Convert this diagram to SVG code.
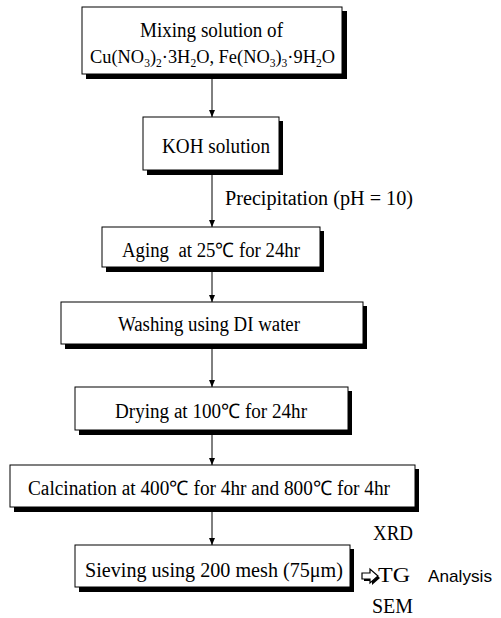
<svg xmlns="http://www.w3.org/2000/svg" width="501" height="618" viewBox="0 0 501 618">
<style>
.shadow{fill:#000}
.box{fill:#fff;stroke:#000;stroke-width:1}
.t{font-family:"Liberation Serif","Times New Roman",serif;font-size:20px;fill:#000}
.t2{font-family:"Liberation Serif","Times New Roman",serif;font-size:18.4px;fill:#000}
.sub{font-size:11.5px}
.s{font-family:"Liberation Sans Narrow","Liberation Sans",Arial,sans-serif;font-size:17px;fill:#000}
.c{stroke:#000;stroke-width:1;fill:none}
</style>
<defs>
<marker id="ad" markerUnits="userSpaceOnUse" markerWidth="6" markerHeight="8" refX="3" refY="7" orient="0" viewBox="0 0 6 8">
<path d="M0,0 L6,0 L3,7 Z" fill="#000"/>
</marker>
</defs>
<rect width="501" height="618" fill="#fff"/>
<g id="connectors">
<line class="c" x1="212" y1="79" x2="212" y2="117" marker-end="url(#ad)"/>
<line class="c" x1="212" y1="175" x2="212" y2="227" marker-end="url(#ad)"/>
<line class="c" x1="212" y1="272" x2="212" y2="302" marker-end="url(#ad)"/>
<line class="c" x1="212" y1="349" x2="212" y2="387" marker-end="url(#ad)"/>
<line class="c" x1="212" y1="435" x2="212" y2="465" marker-end="url(#ad)"/>
<line class="c" x1="212" y1="512" x2="212" y2="545" marker-end="url(#ad)"/>
</g>
<g id="mixing">
<rect class="shadow" x="86" y="11" width="261" height="68"/>
<rect class="box" x="82" y="7" width="260" height="67"/>
<text class="t" x="140" y="37" textLength="143" lengthAdjust="spacingAndGlyphs">Mixing solution of</text>
<text class="t2" x="90" y="63">Cu(NO<tspan class="sub" dy="4">3</tspan><tspan dy="-4">)</tspan><tspan class="sub" dy="4">2</tspan><tspan dy="-4">·3H</tspan><tspan class="sub" dy="4">2</tspan><tspan dy="-4">O, Fe(NO</tspan><tspan class="sub" dy="4">3</tspan><tspan dy="-4">)</tspan><tspan class="sub" dy="4">3</tspan><tspan dy="-4">·9H</tspan><tspan class="sub" dy="4">2</tspan><tspan dy="-4">O</tspan></text>
</g>
<g id="koh">
<rect class="shadow" x="147" y="121" width="136" height="54"/>
<rect class="box" x="143" y="117" width="136" height="53"/>
<text class="t" x="162" y="153" textLength="108" lengthAdjust="spacingAndGlyphs">KOH solution</text>
</g>
<g id="precipitation-label">
<text class="t" x="225" y="205" textLength="188" lengthAdjust="spacingAndGlyphs">Precipitation (pH = 10)</text>
</g>
<g id="aging">
<rect class="shadow" x="106" y="231" width="218" height="41"/>
<rect class="box" x="102" y="227" width="218" height="40"/>
<text class="t" x="122" y="257" textLength="178" lengthAdjust="spacingAndGlyphs">Aging&#160; at 25℃ for 24hr</text>
</g>
<g id="washing">
<rect class="shadow" x="65" y="306" width="302" height="43"/>
<rect class="box" x="61" y="302" width="302" height="42"/>
<text class="t" x="118" y="331" textLength="182" lengthAdjust="spacingAndGlyphs">Washing using DI water</text>
</g>
<g id="drying">
<rect class="shadow" x="79" y="391" width="273" height="44"/>
<rect class="box" x="75" y="387" width="273" height="43"/>
<text class="t" x="115" y="418" textLength="192" lengthAdjust="spacingAndGlyphs">Drying at 100℃ for 24hr</text>
</g>
<g id="calcination">
<rect class="shadow" x="14" y="469" width="405" height="43"/>
<rect class="box" x="10" y="465" width="405" height="42"/>
<text class="t" x="28" y="495" textLength="362" lengthAdjust="spacingAndGlyphs">Calcination at 400℃ for 4hr and 800℃ for 4hr</text>
</g>
<g id="sieving">
<rect class="shadow" x="79" y="549" width="275" height="43"/>
<rect class="box" x="75" y="545" width="275" height="42"/>
<text class="t" x="85" y="577" textLength="258" lengthAdjust="spacingAndGlyphs">Sieving using 200 mesh (75μm)</text>
</g>
<g id="analysis">
<path d="M364,575 L372,575 L372,571 L380,578 L372,585 L372,581 L364,581 Z" fill="#000"/>
<path d="M362,573 L370,573 L370,569 L378,576 L370,583 L370,579 L362,579 Z" fill="#fff" stroke="#000" stroke-width="1.2"/>
<text class="t" x="373" y="540" textLength="40" lengthAdjust="spacingAndGlyphs">XRD</text>
<text class="t" x="378" y="582" textLength="32" lengthAdjust="spacingAndGlyphs">TG</text>
<text class="t" x="372" y="613" textLength="41" lengthAdjust="spacingAndGlyphs">SEM</text>
<text class="s" x="428" y="582" textLength="64" lengthAdjust="spacingAndGlyphs">Analysis</text>
</g>
</svg>
